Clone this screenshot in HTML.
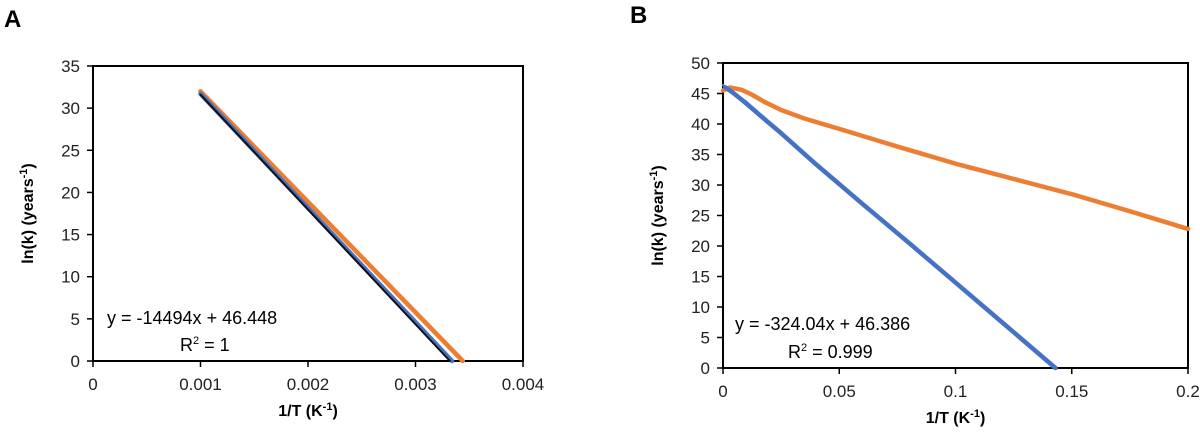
<!DOCTYPE html>
<html><head><meta charset="utf-8"><style>
body{margin:0;background:#fff;font-family:"Liberation Sans",sans-serif}
svg text{font-family:"Liberation Sans",sans-serif}
</style></head><body>
<svg id="s" width="1200" height="435" xmlns="http://www.w3.org/2000/svg">
<text x="4" y="27" font-size="24" font-weight="bold">A</text>
<text x="630" y="23" font-size="24" font-weight="bold">B</text>
<g id="ga"></g>
<g id="gb"></g>
</svg>
<script>
// Panel A data
const aTicksX=[0,0.001,0.002,0.003,0.004];
const aTickLabelsX=["0","0.001","0.002","0.003","0.004"];
const aTicksY=[0,5,10,15,20,25,30,35];
const aOrangeX=[0.001,0.00344];
const aOrangeY=[32,0];
const aBlueX=[0.001,0.00334];
const aBlueY=[31.7,0];
const aFitX=[0.001,0.00332];
const aFitY=[31.6,0];
// Panel B data
const bTicksX=[0,0.05,0.1,0.15,0.2];
const bTickLabelsX=["0","0.05","0.1","0.15","0.2"];
const bTicksY=[0,5,10,15,20,25,30,35,40,45,50];
const bOrangeX=[0,0.003,0.008,0.012,0.018,0.025,0.035,0.05,0.075,0.1,0.125,0.15,0.175,0.2];
const bOrangeY=[45.5,46,45.6,44.9,43.6,42.3,40.9,39.2,36.3,33.5,31,28.5,25.7,22.8];
const bBlueX=[0.001,0.004,0.007,0.01,0.013,0.016,0.02,0.025,0.03,0.04,0.06,0.08,0.1,0.12,0.143];
const bBlueY=[46,45.2,44.3,43.4,42.4,41.4,40.1,38.5,36.8,33.4,26.9,20.5,14,7.5,0];
const bFitSlope=-324.04, bFitIntercept=46.386;

const NS="http://www.w3.org/2000/svg";
function mk(p,t,a){const e=document.createElementNS(NS,t);for(const k in a)e.setAttribute(k,a[k]);p.appendChild(e);return e;}
function chart(g,cfg){
  const sx=v=>cfg.x0+(v-cfg.xmin)/(cfg.xmax-cfg.xmin)*(cfg.x1-cfg.x0);
  const sy=v=>cfg.y0-(v-cfg.ymin)/(cfg.ymax-cfg.ymin)*(cfg.y0-cfg.y1);
  const box=mk(g,'rect',{x:cfg.x0,y:cfg.y1,width:cfg.x1-cfg.x0,height:cfg.y0-cfg.y1,fill:'none',stroke:'#000','stroke-width':2});
  
  
  cfg.tx.forEach((v,i)=>{
    mk(g,'line',{x1:sx(v),x2:sx(v),y1:cfg.y0,y2:cfg.y0+6,stroke:'#000','stroke-width':1.5});
    const t=mk(g,'text',{x:sx(v),y:cfg.y0+29,'font-size':17,'text-anchor':'middle',fill:'#222'});
    t.textContent=cfg.txl[i];
    
    
  });
  cfg.ty.forEach(v=>{
    mk(g,'line',{x1:cfg.x0-6,x2:cfg.x0,y1:sy(v),y2:sy(v),stroke:'#000','stroke-width':1.5});
    const t=mk(g,'text',{x:cfg.x0-13,y:sy(v)+6,'font-size':17,'text-anchor':'end',fill:'#222'});
    t.textContent=String(v);
    
    
  });
  const xt=mk(g,'text',{x:(cfg.x0+cfg.x1)/2,y:cfg.y0+cfg.xtOff,'font-size':16,'font-weight':'bold','text-anchor':'middle'});
  xt.innerHTML='1/T (K<tspan dy="-6" font-size="11">-1</tspan><tspan dy="6">)</tspan>';
  
  
  const yc=(cfg.y0+cfg.y1)/2, yx=cfg.x0-60;
  const yt=mk(g,'text',{x:yx,y:yc,'font-size':16,'font-weight':'bold','text-anchor':'middle',transform:`rotate(-90 ${yx} ${yc})`});
  yt.innerHTML='ln(k) (years<tspan dy="-6" font-size="11">-1</tspan><tspan dy="6">)</tspan>';
  
  
  return {sx,sy};
}
function poly(g,sx,sy,xs,ys,col,w,name){
  const p=mk(g,'polyline',{points:xs.map((x,i)=>sx(x)+','+sy(ys[i])).join(' '),fill:'none',stroke:col,'stroke-width':w,'stroke-linejoin':'round','stroke-linecap':'round'});
  
  
}
// A
const ga=document.getElementById('ga');
const A=chart(ga,{x0:93,x1:523,y0:361,y1:66,xmin:0,xmax:0.004,ymin:0,ymax:35,tx:aTicksX,txl:aTickLabelsX,ty:aTicksY,xtOff:55});
poly(ga,A.sx,A.sy,aOrangeX,aOrangeY,'#ed7d31',4.5,'series-orange');
poly(ga,A.sx,A.sy,aBlueX,aBlueY,'#4472c4',4.5,'series-blue');
poly(ga,A.sx,A.sy,aFitX,aFitY,'#111',2,'trendline');
let t=mk(ga,'text',{x:107,y:324,'font-size':18});t.textContent='y = -14494x + 46.448';


t=mk(ga,'text',{x:180,y:351,'font-size':18});t.innerHTML='R<tspan dy="-7" font-size="11">2</tspan><tspan dy="7"> = 1</tspan>';


// B
const gb=document.getElementById('gb');
const B=chart(gb,{x0:723,x1:1188,y0:368,y1:63,xmin:0,xmax:0.2,ymin:0,ymax:50,tx:bTicksX,txl:bTickLabelsX,ty:bTicksY,xtOff:55});
poly(gb,B.sx,B.sy,bOrangeX,bOrangeY,'#ed7d31',4.5,'series-orange');
poly(gb,B.sx,B.sy,bBlueX,bBlueY,'#4472c4',4.5,'series-blue');
const bFx=[0,-bFitIntercept/bFitSlope];
poly(gb,B.sx,B.sy,bFx,bFx.map(x=>bFitSlope*x+bFitIntercept),'#4472c4',2.5,'trendline');
t=mk(gb,'text',{x:735,y:330,'font-size':18});t.textContent='y = -324.04x + 46.386';


t=mk(gb,'text',{x:788,y:358,'font-size':18});t.innerHTML='R<tspan dy="-7" font-size="11">2</tspan><tspan dy="7"> = 0.999</tspan>';


</script>
</body></html>
